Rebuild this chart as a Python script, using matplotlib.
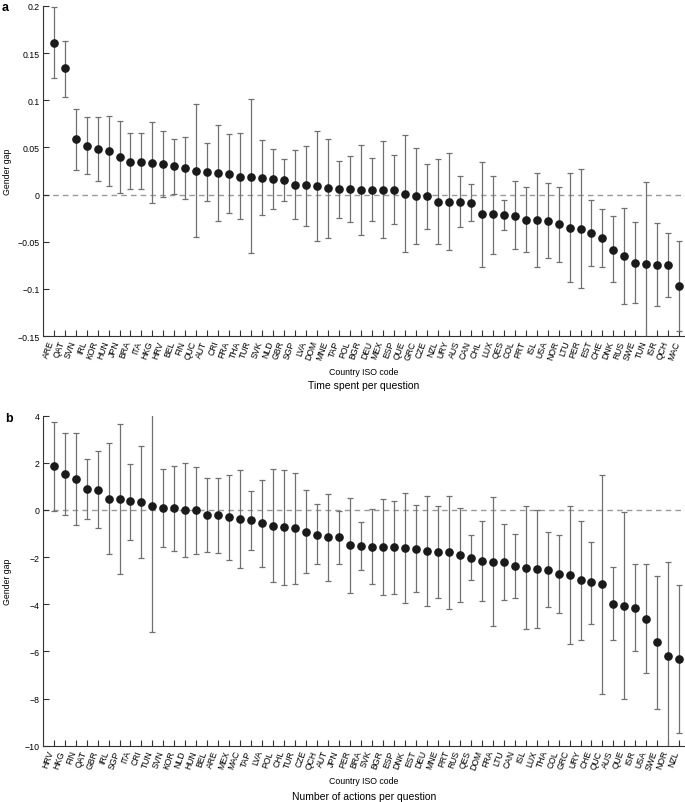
import matplotlib
matplotlib.use("Agg")
import matplotlib.pyplot as plt
import numpy as np

plt.rcParams["font.family"] = ["Liberation Sans", "DejaVu Sans"]

# --- panel a: time spent per question ---
codes_a = ["ARE", "QAT", "SVN", "IRL", "KOR", "HUN", "JPN", "BRA", "ITA", "HKG",
           "HRV", "BEL", "FIN", "QUC", "AUT", "CRI", "FRA", "THA", "TUR", "SVK",
           "NLD", "GBR", "SGP", "LVA", "DOM", "MNE", "TAP", "POL", "BGR", "DEU",
           "MEX", "ESP", "QUE", "GRC", "CZE", "NZL", "URY", "AUS", "CAN", "CHL",
           "LUX", "QES", "COL", "PRT", "ISL", "USA", "NOR", "LTU", "PER", "EST",
           "CHE", "DNK", "RUS", "SWE", "TUN", "ISR", "QCH", "MAC"]
gap_a = [0.161, 0.134, 0.0587, 0.052, 0.048, 0.046, 0.040, 0.035, 0.035, 0.034,
         0.032, 0.030, 0.028, 0.025, 0.024, 0.023, 0.022, 0.019, 0.019, 0.018,
         0.016, 0.0155, 0.0105, 0.0097, 0.009, 0.0067, 0.0057, 0.0057, 0.005, 0.005,
         0.005, 0.005, 0.0007, -0.0014, -0.002, -0.0074, -0.0074, -0.0078, -0.0088, -0.0208,
         -0.021, -0.0215, -0.0222, -0.0265, -0.027, -0.0283, -0.0314, -0.035, -0.0364, -0.0406,
         -0.0463, -0.0583, -0.0653, -0.0724, -0.0731, -0.0742, -0.0752, -0.0971]
lo_a = [0.124, 0.104, 0.0265, 0.0216, 0.0142, 0.0089, 0.0015, 0.0057, 0.006, -0.009,
        -0.003, 0.0004, -0.0045, -0.045, -0.007, -0.0276, -0.020, -0.026, -0.062, -0.0215,
        -0.0155, -0.007, -0.026, -0.033, -0.049, -0.046, -0.025, -0.0293, -0.043, -0.0283,
        -0.0463, -0.031, -0.0608, -0.0526, -0.0367, -0.052, -0.0586, -0.0346, -0.0283, -0.077,
        -0.0625, -0.038, -0.058, -0.0608, -0.077, -0.0675, -0.072, -0.0922, -0.0993, -0.076,
        -0.077, -0.0929, -0.1162, -0.1151, -0.17, -0.1183, -0.1088, -0.1442]
hi_a = [0.199, 0.163, 0.091, 0.082, 0.082, 0.083, 0.078, 0.065, 0.065, 0.077,
        0.067, 0.059, 0.061, 0.096, 0.055, 0.074, 0.064, 0.065, 0.101, 0.058,
        0.048, 0.038, 0.047, 0.052, 0.067, 0.059, 0.036, 0.0407, 0.053, 0.0386,
        0.0566, 0.042, 0.0636, 0.049, 0.0325, 0.038, 0.044, 0.0195, 0.011, 0.035,
        0.0195, -0.0053, 0.0142, 0.0085, 0.023, 0.012, 0.0085, 0.0233, 0.027, -0.0056,
        -0.0155, -0.023, -0.014, -0.029, 0.0138, -0.0297, -0.041, -0.0494]
yticks_a = [0.2, 0.15, 0.1, 0.05, 0, -0.05, -0.1, -0.15]
yticklabels_a = ["0.2", "0.15", "0.1", "0.05", "0", "\u22120.05", "\u22120.1", "\u22120.15"]

# --- panel b: number of actions per question ---
codes_b = ["HRV", "HKG", "FIN", "QAT", "GBR", "IRL", "SGP", "ITA", "CRI", "TUN",
           "SVN", "KOR", "NLD", "HUN", "BEL", "ARE", "MEX", "MAC", "TAP", "LVA",
           "POL", "CHL", "TUR", "CZE", "QCH", "AUT", "JPN", "PER", "BRA", "SVK",
           "BGR", "ESP", "DNK", "EST", "DEU", "MNE", "PRT", "RUS", "QES", "DOM",
           "FRA", "LTU", "CAN", "ISL", "LUX", "THA", "COL", "GRC", "URY", "CHE",
           "QUC", "AUS", "QUE", "ISR", "USA", "SWE", "NOR", "NZL"]
gap_b = [1.85, 1.51, 1.315, 0.88, 0.86, 0.48, 0.45, 0.37, 0.35, 0.17,
         0.07, 0.07, 0.01, -0.01, -0.2, -0.22, -0.31, -0.38, -0.44, -0.56,
         -0.66, -0.72, -0.78, -0.92, -1.05, -1.15, -1.16, -1.50, -1.53, -1.55,
         -1.57, -1.58, -1.63, -1.64, -1.75, -1.80, -1.80, -1.90, -2.04, -2.16,
         -2.19, -2.22, -2.39, -2.45, -2.52, -2.53, -2.72, -2.77, -2.98, -3.07,
         -3.15, -3.97, -4.07, -4.17, -4.61, -5.61, -6.18, -6.34]
lo_b = [-0.04, -0.21, -0.62, -0.38, -0.78, -1.85, -2.73, -1.26, -2.04, -5.16,
        -1.58, -1.74, -1.98, -1.85, -1.78, -1.81, -2.13, -2.46, -1.70, -2.43,
        -3.04, -3.17, -3.14, -2.66, -2.30, -3.01, -2.30, -3.51, -2.53, -3.14,
        -3.61, -3.55, -3.95, -3.48, -4.07, -3.73, -4.21, -3.92, -2.98, -3.85,
        -4.92, -3.83, -3.75, -5.05, -5.02, -4.12, -4.36, -5.67, -5.50, -4.82,
        -7.81, -5.53, -8.02, -6.0, -6.93, -8.43, -10.5, -9.47]
hi_b = [3.75, 3.25, 3.28, 2.15, 2.49, 2.83, 3.63, 1.96, 2.73, 5.5,
        1.73, 1.85, 1.99, 1.84, 1.37, 1.37, 1.48, 1.70, 0.81, 1.29,
        1.74, 1.70, 1.56, 0.83, 0.24, 0.69, -0.03, 0.51, -0.52, 0.04,
        0.47, 0.40, 0.73, 0.23, 0.58, 0.16, 0.61, 0.08, -1.06, -0.48,
        0.55, -0.58, -1.00, 0.16, 0.0, -0.95, -1.07, 0.16, -0.48, -1.34,
        1.50, -2.40, -0.10, -2.30, -2.30, -2.79, -2.22, -3.19]
yticks_b = [4, 2, 0, -2, -4, -6, -8, -10]
yticklabels_b = ["4", "2", "0", "\u22122", "\u22124", "\u22126", "\u22128", "\u221210"]


def draw_panel(ax, codes, gap, lo, hi, yticks, yticklabels, ylim):
    x = np.arange(len(codes))
    gap = np.array(gap)
    err = [gap - np.array(lo), np.array(hi) - gap]
    ax.axhline(0, color="#9a9a9a", lw=1.0, ls=(0, (4, 3)), zorder=1)
    ax.errorbar(x, gap, yerr=err, fmt="o", color="#1a1a1a", ms=5.2,
                ecolor="#707070", elinewidth=0.9, capsize=2.3, capthick=0.9,
                zorder=3)
    ax.set_xlim(-1, len(codes) - 0.48)
    ax.set_ylim(*ylim)
    ax.set_xticks(x)
    # label end sits at the tick, text runs down-left like the original
    ax.set_xticklabels(codes, rotation=70, ha="right", va="baseline",
                       rotation_mode="anchor", fontsize=6.2)
    ax.set_yticks(yticks)
    ax.set_yticklabels(yticklabels, fontsize=6.3)
    ax.tick_params(direction="in", length=4, width=0.8, color="#333333", pad=2)
    ax.tick_params(axis="x", pad=4)
    for s in ["top", "right"]:
        ax.spines[s].set_visible(False)
    for s in ["left", "bottom"]:
        ax.spines[s].set_linewidth(0.8)
        ax.spines[s].set_color("#333333")
    ax.set_ylabel("Gender gap", fontsize=6.3)
    ax.yaxis.set_label_coords(-0.048, 0.5)
    ax.set_xlabel("Country ISO code", fontsize=6.3, labelpad=4)


fig = plt.figure(figsize=(6.85, 8.03), dpi=100)

ax_a = fig.add_axes([0.0623, 0.5803, 0.9377, 0.4110])
draw_panel(ax_a, codes_a, gap_a, lo_a, hi_a, yticks_a, yticklabels_a, (-0.15, 0.2))

ax_b = fig.add_axes([0.0623, 0.0701, 0.9377, 0.4110])
draw_panel(ax_b, codes_b, gap_b, lo_b, hi_b, yticks_b, yticklabels_b, (-10, 4))

fig.text(0.003, 0.997, "a", fontsize=9, fontweight="bold", va="top", ha="left")
fig.text(0.007, 0.486, "b", fontsize=9, fontweight="bold", va="top", ha="left")
fig.text(0.531, 1 - 386 / 803, "Time spent per question", fontsize=7.5,
         ha="center", va="center")
fig.text(0.531, 1 - 797 / 803, "Number of actions per question", fontsize=7.5,
         ha="center", va="center")

plt.savefig("out.png", dpi=100)
plt.close()
